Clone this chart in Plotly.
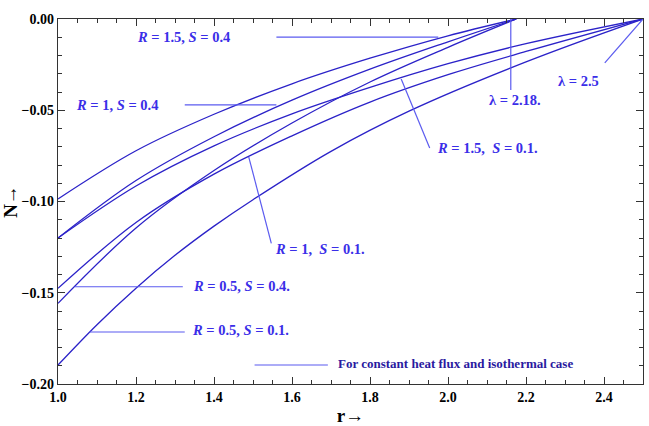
import plotly.graph_objects as go

# Curves ending at lambda = 2.18 (steeper group)
x_a = [1.0, 1.2, 1.4, 1.6, 1.8, 2.0, 2.175]
y_a = [-0.0986, -0.0722, -0.0522, -0.0355, -0.0215, -0.0092, 0.0]
x_b = [1.0, 1.2, 1.4, 1.6, 1.8, 2.0, 2.175]
y_b = [-0.120, -0.0885, -0.0645, -0.0445, -0.0275, -0.0125, 0.0]
x_c = [1.0, 1.2, 1.4, 1.6, 1.8, 2.0, 2.175]
y_c = [-0.1558, -0.1145, -0.083, -0.057, -0.0345, -0.0155, 0.0]
# Curves ending at lambda = 2.5
x_d = [1.0, 1.2, 1.4, 1.6, 1.8, 2.0, 2.2, 2.5]
y_d = [-0.120, -0.0915, -0.0695, -0.052, -0.0375, -0.0245, -0.0135, 0.0]
x_e = [1.0, 1.2, 1.4, 1.6, 1.8, 2.0, 2.2, 2.5]
y_e = [-0.1476, -0.1115, -0.085, -0.064, -0.0455, -0.0305, -0.0178, 0.0]
x_f = [1.0, 1.1, 1.2, 1.3, 1.4, 1.5, 1.7, 1.9, 2.2, 2.5]
y_f = [-0.1896, -0.1675, -0.1475, -0.1295, -0.1135, -0.099, -0.0725, -0.0505, -0.0235, 0.0]

x_ticks = [1.0, 1.2, 1.4, 1.6, 1.8, 2.0, 2.2, 2.4]
y_ticks = [-0.20, -0.15, -0.10, -0.05, 0.00]

CURVE = "#2b22c8"
ALINE = "#5b5bef"
TXT = "#3a2ee8"
SERIF = "Liberation Serif, Times New Roman, serif"

fig = go.Figure()
for xs, ys in [(x_a, y_a), (x_b, y_b), (x_c, y_c), (x_d, y_d), (x_e, y_e), (x_f, y_f)]:
    fig.add_trace(go.Scatter(x=xs, y=ys, mode="lines",
                             line=dict(color=CURVE, width=1.3, shape="spline", smoothing=1.0),
                             showlegend=False, hoverinfo="skip"))

# annotation leader lines (data coords)
leaders = [
    ((1.56, -0.0099), (1.975, -0.0099)),    # R=1.5, S=0.4
    ((1.325, -0.0471), (1.56, -0.0471)),    # R=1, S=0.4
    ((1.880, -0.0329), (1.953, -0.0707)),   # R=1.5, S=0.1
    ((1.489, -0.0755), (1.547, -0.1229)),   # R=1, S=0.1
    ((1.043, -0.1467), (1.32, -0.1467)),    # R=0.5, S=0.4
    ((1.081, -0.1715), (1.325, -0.1715)),   # R=0.5, S=0.1
    ((2.161, 0.0), (2.161, -0.0389)),       # lambda=2.18
    ((2.402, -0.0241), (2.5, 0.0)),         # lambda=2.5
    ((1.504, -0.1896), (1.692, -0.1896)),   # legend line
]
for (x0, y0), (x1, y1) in leaders:
    fig.add_shape(type="line", x0=x0, y0=y0, x1=x1, y1=y1, xref="x", yref="y",
                  line=dict(color=ALINE, width=1.2))

labels = [
    (1.197, -0.0099, "<i>R</i> = 1.5, <i>S</i> = 0.4"),
    (1.040, -0.0471, "<i>R</i> = 1, <i>S</i> = 0.4"),
    (1.966, -0.0707, "<i>R</i> = 1.5,  <i>S</i> = 0.1."),
    (1.551, -0.1260, "<i>R</i> = 1,  <i>S</i> = 0.1."),
    (1.342, -0.1463, "<i>R</i> = 0.5, <i>S</i> = 0.4."),
    (1.338, -0.1704, "<i>R</i> = 0.5, <i>S</i> = 0.1."),
    (2.101, -0.0444, "λ = 2.18."),
    (2.276, -0.0340, "λ = 2.5"),
]
for x, y, t in labels:
    fig.add_annotation(x=x, y=y, text="<b>" + t + "</b>", showarrow=False, xanchor="left",
                       yanchor="middle", font=dict(family=SERIF, size=14.5, color=TXT))

fig.add_annotation(x=1.714, y=-0.1890, text="<b>For constant heat flux and isothermal case</b>",
                   showarrow=False, xanchor="left", yanchor="middle",
                   font=dict(family=SERIF, size=13, color="#2a1aa0"))

axis_common = dict(showline=True, linecolor="#333333", linewidth=1.2, mirror="allticks",
                   ticks="inside", tickcolor="#333333", ticklen=7, tickwidth=1,
                   showgrid=False, zeroline=False,
                   tickfont=dict(family=SERIF, size=14, color="black"))

fig.update_xaxes(range=[1.0, 2.5], tickvals=x_ticks, ticktext=[f"<b>{v:.1f}</b>" for v in x_ticks],
                 minor=dict(ticks="inside", dtick=0.05, ticklen=4, tickcolor="#333333"),
                 title=dict(text="<b>r→</b>", font=dict(family=SERIF, size=19, color="black"), standoff=2),
                 **axis_common)
fig.update_yaxes(range=[-0.20, 0.0], tickvals=y_ticks,
                 ticktext=[("<b>" + f"{v:.2f}".replace("-", "−") + "</b>") if v != 0 else "<b>0.00</b>" for v in y_ticks],
                 minor=dict(ticks="inside", dtick=0.01, ticklen=4, tickcolor="#333333"),
                 title=dict(text="<b>N→</b>", font=dict(family=SERIF, size=19, color="black"), standoff=0),
                 **axis_common)

fig.update_layout(width=649, height=426, margin=dict(l=58, r=6, t=19, b=42),
                  plot_bgcolor="white", paper_bgcolor="white", showlegend=False)

fig.write_html("out.html")
